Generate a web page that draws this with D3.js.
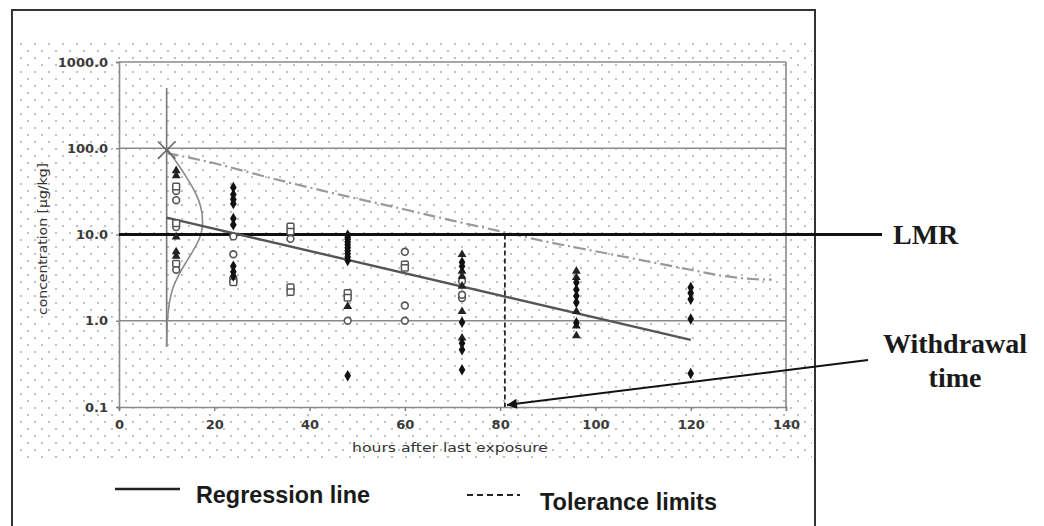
<!DOCTYPE html>
<html><head><meta charset="utf-8">
<script src="https://cdn.jsdelivr.net/npm/d3@7"></script>
<style>body{margin:0;background:#fff}svg{display:block}</style>
</head><body>
<svg id="c" width="1044" height="526"></svg>
<script>
// ---- data ----
const xTicks = [0, 20, 40, 60, 80, 100, 120, 140];
const yTicks = [0.1, 1, 10, 100, 1000];
const yGrid = [1, 100, 1000];
const lmr = 10;
const withdrawalTime = 81;
const regression = [[10, 15.7], [120, 0.6]];
const tolerance = [[10, 88], [20, 67], [30, 48], [40, 35], [50, 26], [60, 19.5], [70, 14.5], [80, 10.9], [90, 8.2], [100, 6.4], [110, 5.0], [120, 3.9], [127, 3.3], [133, 3.05], [137, 3.0]];
const densityAxis = [[10, 500], [10, 0.5]];
const densityCurve = [[100, 10], [70, 12], [50, 13.8], [35, 15.5], [25, 16.8], [18, 17.5], [12, 17.6], [9, 17], [6.5, 15.6], [4.7, 14], [3.4, 12.5], [2.4, 11.2], [1.6, 10.5], [1, 10.1], [0.5, 10]];
const startPoint = [10, 95];
const circles = [[12, 32], [12, 25], [12, 12.2], [12, 3.9], [24, 9.5], [24, 5.9], [36, 8.9], [48, 1.0], [60, 6.3], [60, 1.5], [60, 1.0], [72, 2.87], [72, 1.84], [72, 2.0]];
const squares = [[12, 36], [12, 13.5], [12, 4.6], [24, 3.0], [24, 2.8], [36, 12.4], [36, 10.8], [36, 2.45], [36, 2.15], [48, 2.1], [48, 1.85], [60, 4.5], [60, 4.1]];
const triangles = [[12, 55], [12, 48], [12, 9.4], [12, 6.3], [12, 5.6], [48, 1.47], [72, 5.86], [72, 3.76], [72, 3.28], [72, 2.52], [72, 1.28], [72, 0.63], [96, 3.76], [96, 3.17], [96, 1.28], [96, 0.87], [96, 0.67]];
const diamonds = [[24, 35], [24, 29], [24, 25.5], [24, 22.8], [24, 15.3], [24, 13], [24, 4.3], [24, 3.7], [24, 3.3], [48, 9.8], [48, 9.3], [48, 8.8], [48, 8.2], [48, 7.6], [48, 7.0], [48, 6.5], [48, 6.0], [48, 5.5], [48, 5.0], [48, 0.23], [72, 4.77], [72, 4.29], [72, 0.96], [72, 0.55], [72, 0.46], [72, 0.27], [96, 2.77], [96, 2.29], [96, 1.94], [96, 1.63], [96, 0.95], [120, 2.43], [120, 2.1], [120, 1.77], [120, 1.05], [120, 0.245]];
const yTitle = "concentration [µg/kg]";
const xTitle = "hours after last exposure";
const legendItems = ["Regression line", "Tolerance limits"];
const annotations = ["LMR", "Withdrawal", "time"];

// ---- drawing ----
const svg = d3.select("#c");
const x = d3.scaleLinear().domain([0, 140]).range([119, 786]);
const y = d3.scaleLog().domain([0.1, 1000]).range([407, 62]);

const defs = svg.append("defs");
const pat = defs.append("pattern").attr("id", "dots").attr("patternUnits", "userSpaceOnUse")
  .attr("width", 14).attr("height", 14).attr("x", 20).attr("y", 43);
pat.append("circle").attr("cx", 1).attr("cy", 1).attr("r", 1).attr("fill", "#aaa");
pat.append("circle").attr("cx", 8).attr("cy", 8).attr("r", 1).attr("fill", "#aaa");
const mk = defs.append("marker").attr("id", "arr").attr("viewBox", "0 0 10 10").attr("refX", 10).attr("refY", 5)
  .attr("markerWidth", 16).attr("markerHeight", 10).attr("markerUnits", "userSpaceOnUse").attr("orient", "auto");
mk.append("path").attr("d", "M0,0L10,5L0,10z").attr("fill", "#111");

// frame
svg.append("rect").attr("x", 12).attr("y", 10).attr("width", 803).attr("height", 540)
  .attr("fill", "#fff").attr("stroke", "#333").attr("stroke-width", 2);
svg.append("rect").attr("x", 17).attr("y", 40).attr("width", 795).attr("height", 422).attr("fill", "url(#dots)");

// grid
const grid = svg.append("g").attr("stroke", "#8a8a8a").attr("stroke-width", 1.6);
grid.selectAll("line").data(yGrid).join("line")
  .attr("x1", x(0)).attr("x2", x(140)).attr("y1", d => y(d)).attr("y2", d => y(d));
grid.append("line").attr("x1", x(140)).attr("x2", x(140)).attr("y1", y(1000)).attr("y2", y(0.1));

// axes
const fmtY = d => d.toFixed(1);
const ax = svg.append("g").attr("transform", `translate(0,${y(0.1)})`)
  .call(d3.axisBottom(x).tickValues(xTicks).tickSize(4).tickPadding(9).tickFormat(d3.format("d")));
const ay = svg.append("g").attr("transform", `translate(${x(0)},0)`)
  .call(d3.axisLeft(y).tickValues(yTicks).tickSize(3).tickPadding(8).tickFormat(fmtY));
[ax, ay].forEach(g => {
  g.select(".domain").attr("stroke", "#8a8a8a").attr("stroke-width", 1.6);
  g.selectAll(".tick line").attr("stroke", "#777").attr("stroke-width", 1.3);
  g.selectAll("text").attr("font-family", "DejaVu Sans").attr("font-size", 13).attr("font-weight", "bold").attr("fill", "#3a3a3a");
});

svg.append("text").attr("transform", "translate(47,239) rotate(-90)").attr("text-anchor", "middle")
  .attr("font-family", "DejaVu Sans").attr("font-size", 12).attr("fill", "#333")
  .attr("textLength", 152).attr("lengthAdjust", "spacingAndGlyphs").text(yTitle);
svg.append("text").attr("x", 450).attr("y", 452).attr("text-anchor", "middle")
  .attr("font-family", "DejaVu Sans").attr("font-size", 12.5).attr("fill", "#333")
  .attr("textLength", 196).attr("lengthAdjust", "spacingAndGlyphs").text(xTitle);

// density (normal distribution) at first time point
const line = d3.line().x(d => x(d[0])).y(d => y(d[1]));
svg.append("path").attr("d", line(densityAxis)).attr("stroke", "#777").attr("stroke-width", 1.6).attr("fill", "none");
svg.append("path").attr("d", d3.line().x(d => x(d[1])).y(d => y(d[0])).curve(d3.curveBasis)(densityCurve))
  .attr("stroke", "#8a8a8a").attr("stroke-width", 1.6).attr("fill", "none");

// tolerance limit
svg.append("path").attr("d", line.curve(d3.curveMonotoneX)(tolerance)).attr("stroke", "#999").attr("stroke-width", 2.2)
  .attr("fill", "none").attr("stroke-dasharray", "12,4,2,4");

// LMR
svg.append("line").attr("x1", x(0)).attr("x2", 882).attr("y1", y(lmr)).attr("y2", y(lmr))
  .attr("stroke", "#111").attr("stroke-width", 3);

// regression
svg.append("path").attr("d", d3.line().x(d => x(d[0])).y(d => y(d[1]))(regression))
  .attr("stroke", "#555").attr("stroke-width", 2.4).attr("fill", "none");

// start X marker
svg.append("path").attr("transform", `translate(${x(startPoint[0])},${y(startPoint[1])})`)
  .attr("d", d3.symbol(d3.symbolX, 200)()).attr("stroke", "#666").attr("stroke-width", 1.5).attr("fill", "none");

// points
const pts = svg.append("g");
pts.selectAll(".c").data(circles).join("circle").attr("cx", d => x(d[0])).attr("cy", d => y(d[1]))
  .attr("r", 3.4).attr("fill", "#fff").attr("stroke", "#555").attr("stroke-width", 1.6);
pts.selectAll(".s").data(squares).join("rect").attr("x", d => x(d[0]) - 3.4).attr("y", d => y(d[1]) - 3.2)
  .attr("width", 6.8).attr("height", 6.4).attr("rx", 1).attr("fill", "#fff").attr("stroke", "#555").attr("stroke-width", 1.5);
pts.selectAll(".t").data(triangles).join("path").attr("transform", d => `translate(${x(d[0])},${y(d[1])})`)
  .attr("d", d3.symbol(d3.symbolTriangle, 34)()).attr("fill", "#222");
pts.selectAll(".d").data(diamonds).join("path").attr("transform", d => `translate(${x(d[0])},${y(d[1])})`)
  .attr("d", d3.symbol(d3.symbolDiamond, 38)()).attr("fill", "#111");

// withdrawal time
svg.append("line").attr("x1", x(withdrawalTime)).attr("x2", x(withdrawalTime)).attr("y1", y(lmr)).attr("y2", y(0.1))
  .attr("stroke", "#111").attr("stroke-width", 1.6).attr("stroke-dasharray", "5,3");
svg.append("line").attr("x1", 868).attr("y1", 360).attr("x2", x(withdrawalTime) + 2).attr("y2", y(0.1) - 2)
  .attr("stroke", "#111").attr("stroke-width", 2).attr("marker-end", "url(#arr)");

// annotations
const ann = svg.append("g").attr("font-family", "Liberation Serif").attr("font-weight", "bold").attr("font-size", 28).attr("fill", "#1a1a1a");
ann.append("text").attr("x", 893).attr("y", 244).text(annotations[0]);
ann.append("text").attr("x", 955).attr("y", 353).attr("text-anchor", "middle").text(annotations[1]);
ann.append("text").attr("x", 955).attr("y", 387).attr("text-anchor", "middle").text(annotations[2]);

// legend
svg.append("line").attr("x1", 115).attr("x2", 180).attr("y1", 489).attr("y2", 489).attr("stroke", "#222").attr("stroke-width", 2.4);
svg.append("line").attr("x1", 467).attr("x2", 520).attr("y1", 495).attr("y2", 495).attr("stroke", "#222").attr("stroke-width", 1.8).attr("stroke-dasharray", "6,4");
const leg = svg.append("g").attr("font-family", "Liberation Sans").attr("font-weight", "bold").attr("font-size", 24).attr("fill", "#1a1a1a");
leg.append("text").attr("x", 196).attr("y", 503).attr("textLength", 174).attr("lengthAdjust", "spacingAndGlyphs").text(legendItems[0]);
leg.append("text").attr("x", 540).attr("y", 510).attr("textLength", 177).attr("lengthAdjust", "spacingAndGlyphs").text(legendItems[1]);
</script>
</body></html>
